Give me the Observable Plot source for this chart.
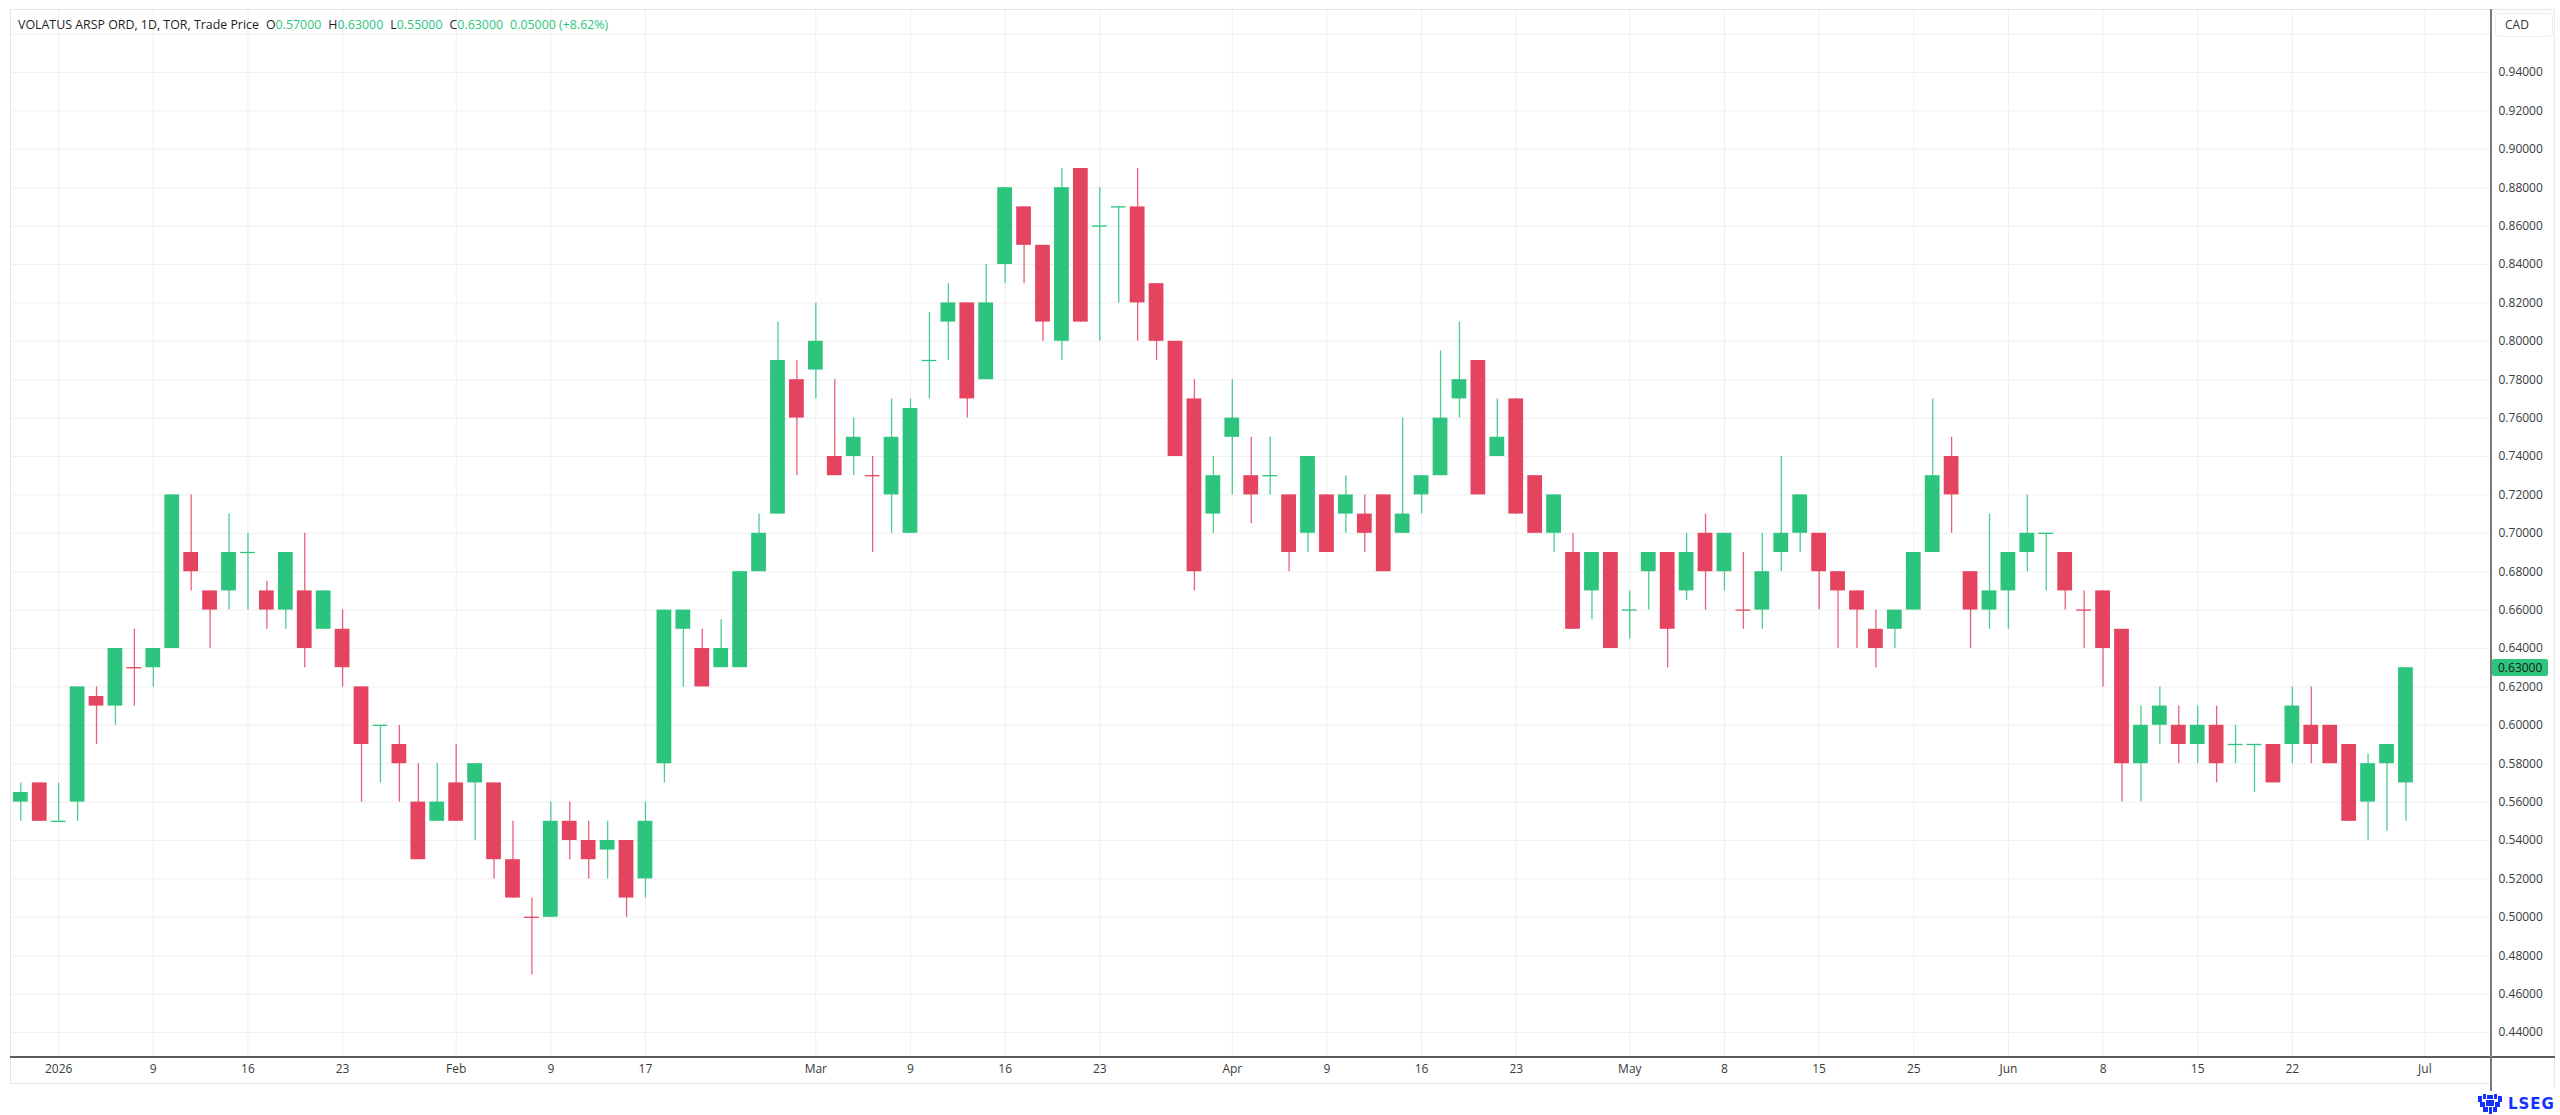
<!DOCTYPE html>
<html>
<head>
<meta charset="utf-8">
<script src="https://cdn.jsdelivr.net/npm/d3@7"></script>
<script src="https://cdn.jsdelivr.net/npm/@observablehq/plot@0.6"></script>
<style>
  html, body { margin: 0; padding: 0; background: #fff; }
  #wrap { position: relative; width: 2560px; height: 1115px; overflow: hidden; font-family: "Open Sans", "Noto Sans", sans-serif; }
  #wrap > svg { position: absolute; left: 0; top: 0; }
  .ov { position: absolute; }
  #hdr { left: 18px; top: 17px; font-size: 12.4px; line-height: 16px; color: #1e1e1e; white-space: nowrap; }
  #hdr .v { color: #2dc47e; }
  #hdr .k { margin-left: 7px; }
  #cad { left: 2495px; top: 13px; width: 58px; height: 24px; box-sizing: border-box; border: 1px solid #ececec; border-radius: 4px; font-size: 12px; line-height: 22px; color: #333; padding-left: 9px; background: #fff; }
  #px { left: 2492px; width: 56px; height: 17px; background: #2dc47e; color: #1a1a1a; font-size: 12px; line-height: 17px; padding-left: 6px; box-sizing: border-box; border-radius: 2px; }
  #logo { left: 2478px; top: 1093px; height: 22px; display: flex; align-items: center; gap: 6px; }
  #logo svg { display: block; }
  #logo span { font-family: "DejaVu Sans", sans-serif; font-weight: bold; font-size: 15px; color: #1432ff; letter-spacing: 1px; }
</style>
</head>
<body>
<div id="wrap"></div>
<script>
// ---------- data ----------
const holidays = ["2026-01-01", "2026-02-16", "2026-04-03", "2026-05-18", "2026-07-01"];
function tradingDays(from, to) {
  const out = [];
  for (let t = new Date(from + "T00:00:00Z"); t <= new Date(to + "T00:00:00Z"); t = new Date(t.getTime() + 86400000)) {
    const wd = t.getUTCDay();
    const s = t.toISOString().slice(0, 10);
    if (wd !== 0 && wd !== 6 && !holidays.includes(s)) out.push(s);
  }
  return out;
}
const dates = tradingDays("2025-12-30", "2026-06-30");

const open = [
  0.56, 0.57, 0.55, 0.56, 0.615, 0.61, 0.63, 0.63, 0.64, 0.69, 0.67, 0.67, 0.69, 0.67, 0.66, 0.67, 0.65, 0.65, 0.62, 0.60, 0.59, 0.56, 0.55,
  0.57, 0.57, 0.57, 0.53, 0.50, 0.50, 0.55, 0.54, 0.535, 0.54, 0.52, 0.58, 0.65, 0.64, 0.63, 0.63, 0.68, 0.71, 0.78,
  0.785, 0.74, 0.74, 0.73, 0.72, 0.70, 0.79, 0.81, 0.82, 0.78, 0.84, 0.87, 0.85, 0.80, 0.89, 0.86, 0.87, 0.87, 0.83, 0.80, 0.77, 0.71,
  0.75, 0.73, 0.73, 0.72, 0.70, 0.72, 0.71, 0.71, 0.72, 0.70, 0.72, 0.73, 0.77, 0.79, 0.74, 0.77, 0.73, 0.70, 0.69, 0.67, 0.69,
  0.66, 0.68, 0.69, 0.67, 0.70, 0.68, 0.66, 0.66, 0.69, 0.70, 0.70, 0.68, 0.67, 0.65, 0.65, 0.66, 0.69, 0.74, 0.68, 0.66,
  0.67, 0.69, 0.70, 0.69, 0.66, 0.67, 0.65, 0.58, 0.60, 0.60, 0.59, 0.60, 0.59, 0.59, 0.59, 0.59, 0.60, 0.60, 0.59, 0.56, 0.58, 0.57
];
const high = [
  0.57, 0.57, 0.57, 0.62, 0.62, 0.64, 0.65, 0.64, 0.72, 0.72, 0.67, 0.71, 0.70, 0.675, 0.69, 0.70, 0.67, 0.66, 0.62, 0.60, 0.60, 0.58, 0.58,
  0.59, 0.58, 0.57, 0.55, 0.51, 0.56, 0.56, 0.55, 0.55, 0.54, 0.56, 0.66, 0.66, 0.65, 0.655, 0.68, 0.71, 0.81, 0.79,
  0.82, 0.78, 0.76, 0.74, 0.77, 0.77, 0.815, 0.83, 0.82, 0.84, 0.88, 0.87, 0.85, 0.89, 0.89, 0.88, 0.87, 0.89, 0.83, 0.80, 0.78, 0.74,
  0.78, 0.75, 0.75, 0.72, 0.74, 0.72, 0.73, 0.72, 0.72, 0.76, 0.73, 0.795, 0.81, 0.79, 0.77, 0.77, 0.73, 0.72, 0.70, 0.69, 0.69,
  0.67, 0.69, 0.69, 0.70, 0.71, 0.70, 0.69, 0.70, 0.74, 0.72, 0.70, 0.68, 0.67, 0.66, 0.66, 0.69, 0.77, 0.75, 0.68, 0.71,
  0.69, 0.72, 0.70, 0.69, 0.67, 0.67, 0.65, 0.61, 0.62, 0.61, 0.61, 0.61, 0.60, 0.59, 0.59, 0.62, 0.62, 0.60, 0.59, 0.585, 0.59, 0.63
];
const low = [
  0.55, 0.55, 0.55, 0.55, 0.59, 0.60, 0.61, 0.62, 0.64, 0.67, 0.64, 0.66, 0.66, 0.65, 0.65, 0.63, 0.65, 0.62, 0.56, 0.57, 0.56, 0.53, 0.55,
  0.55, 0.54, 0.52, 0.51, 0.47, 0.50, 0.53, 0.52, 0.52, 0.50, 0.51, 0.57, 0.62, 0.62, 0.63, 0.63, 0.68, 0.71, 0.73,
  0.77, 0.73, 0.73, 0.69, 0.70, 0.70, 0.77, 0.79, 0.76, 0.78, 0.83, 0.83, 0.80, 0.79, 0.81, 0.80, 0.82, 0.80, 0.79, 0.74, 0.67, 0.70,
  0.72, 0.705, 0.72, 0.68, 0.69, 0.69, 0.70, 0.69, 0.68, 0.70, 0.71, 0.73, 0.76, 0.72, 0.74, 0.71, 0.70, 0.69, 0.65, 0.655, 0.64,
  0.645, 0.66, 0.63, 0.665, 0.66, 0.67, 0.65, 0.65, 0.68, 0.69, 0.66, 0.64, 0.64, 0.63, 0.64, 0.66, 0.69, 0.70, 0.64, 0.65,
  0.65, 0.68, 0.67, 0.66, 0.64, 0.62, 0.56, 0.56, 0.59, 0.58, 0.58, 0.57, 0.58, 0.565, 0.57, 0.58, 0.58, 0.58, 0.55, 0.54, 0.545, 0.55
];
const close = [
  0.565, 0.55, 0.55, 0.62, 0.61, 0.64, 0.63, 0.64, 0.72, 0.68, 0.66, 0.69, 0.69, 0.66, 0.69, 0.64, 0.67, 0.63, 0.59, 0.60, 0.58, 0.53, 0.56,
  0.55, 0.58, 0.53, 0.51, 0.50, 0.55, 0.54, 0.53, 0.54, 0.51, 0.55, 0.66, 0.66, 0.62, 0.64, 0.68, 0.70, 0.79, 0.76,
  0.80, 0.73, 0.75, 0.73, 0.75, 0.765, 0.79, 0.82, 0.77, 0.82, 0.88, 0.85, 0.81, 0.88, 0.81, 0.86, 0.87, 0.82, 0.80, 0.74, 0.68, 0.73,
  0.76, 0.72, 0.73, 0.69, 0.74, 0.69, 0.72, 0.70, 0.68, 0.71, 0.73, 0.76, 0.78, 0.72, 0.75, 0.71, 0.70, 0.72, 0.65, 0.69, 0.64,
  0.66, 0.69, 0.65, 0.69, 0.68, 0.70, 0.66, 0.68, 0.70, 0.72, 0.68, 0.67, 0.66, 0.64, 0.66, 0.69, 0.73, 0.72, 0.66, 0.67,
  0.69, 0.70, 0.70, 0.67, 0.66, 0.64, 0.58, 0.60, 0.61, 0.59, 0.60, 0.58, 0.59, 0.59, 0.57, 0.61, 0.59, 0.58, 0.55, 0.58, 0.59, 0.63
];

const tickDates = ["2026-01-02", "2026-01-09", "2026-01-16", "2026-01-23", "2026-02-02", "2026-02-09", "2026-02-17",
  "2026-03-02", "2026-03-09", "2026-03-16", "2026-03-23", "2026-04-01", "2026-04-09", "2026-04-16", "2026-04-23",
  "2026-05-01", "2026-05-08", "2026-05-15", "2026-05-25", "2026-06-01", "2026-06-08", "2026-06-15", "2026-06-22", "2026-07-02"];
const tickLabels = ["2026", "9", "16", "23", "Feb", "9", "17", "Mar", "9", "16", "23", "Apr", "9", "16", "23",
  "May", "8", "15", "25", "Jun", "8", "15", "22", "Jul"];
const priceTicks = d3.range(0, 26).map(k => +(0.44 + 0.02 * k).toFixed(2));      // 0.44 … 0.94
const priceGrid = d3.range(0, 27).map(k => +(0.44 + 0.02 * k).toFixed(2));       // 0.44 … 0.96

// ---------- build ----------
const sessions = tradingDays("2025-12-30", "2026-07-02");
const candles = dates.map((d, i) => ({ i, date: d, open: open[i], high: high[i], low: low[i], close: close[i] }));
const GREEN = "#2dc47e", RED = "#e54460";
function col(d) {
  if (d.close > d.open) return GREEN;
  if (d.close < d.open) return RED;
  const prev = d.i > 0 ? close[d.i - 1] : d.close;
  return d.close >= prev ? GREEN : RED;
}
candles.forEach(d => d.color = col(d));
const ticks = tickDates.map((d, k) => ({ idx: sessions.indexOf(d), label: tickLabels[k] }));
const HALF = 0.39;
const bodies = candles.filter(d => d.open !== d.close);
const dojis = candles.filter(d => d.open === d.close);

const chart = Plot.plot({
  width: 2560,
  height: 1115,
  marginLeft: 10,
  marginRight: 69,
  marginTop: 9,
  marginBottom: 58,
  style: { background: "transparent", fontFamily: "Open Sans, Noto Sans, sans-serif", overflow: "visible" },
  x: { type: "linear", domain: [-0.544, 130.52], axis: null },
  y: { domain: [0.44 - 25 / 1920, 0.94 + 63 / 1920], axis: null },
  color: { type: "identity" },
  marks: [
    Plot.gridY(priceGrid, { stroke: "#efefef", strokeOpacity: 1, strokeWidth: 1 }),
    Plot.gridX(ticks.map(t => t.idx), { stroke: "#efefef", strokeOpacity: 1, strokeWidth: 1 }),
    Plot.ruleX(candles, { x: "i", y1: "low", y2: "high", stroke: "color", strokeWidth: 1.3, strokeOpacity: 0.85 }),
    Plot.rect(bodies, { x1: d => d.i - HALF, x2: d => d.i + HALF, y1: "open", y2: "close", fill: "color" }),
    Plot.ruleY(dojis, { y: "close", x1: d => d.i - HALF, x2: d => d.i + HALF, stroke: "color", strokeWidth: 1.3 }),
    Plot.axisY(priceTicks, { anchor: "right", tickSize: 0, tickPadding: 7, tickFormat: d => d.toFixed(5), fontSize: 12, fill: "#3a3a3a", label: null }),
    Plot.text(ticks, { x: "idx", text: "label", frameAnchor: "bottom", lineAnchor: "top", dy: 7, fontSize: 12, fill: "#3a3a3a" })
  ]
});

const wrap = document.getElementById("wrap");
wrap.appendChild(chart);

// frame lines
function line(l, t, w, h, c) {
  const e = document.createElement("div");
  e.className = "ov";
  Object.assign(e.style, { left: l + "px", top: t + "px", width: w + "px", height: h + "px", background: c });
  wrap.appendChild(e);
}
line(10, 9, 2545, 1, "#e6e6e6");     // top border
line(10, 9, 1, 1075, "#e6e6e6");     // left border
line(10, 1083, 2481, 1, "#e6e6e6");  // time-axis strip bottom
line(2554, 9, 1, 1081, "#eaeaea");   // price-axis strip right
line(10, 1056, 2545, 2, "#5c5c5c");  // time axis line
line(2490, 9, 2, 1082, "#7a7a7a");   // price axis line

// header legend
const last = candles[candles.length - 1];
const prevClose = 0.58;
const chg = last.close - prevClose;
const hdr = document.createElement("div");
hdr.id = "hdr"; hdr.className = "ov";
hdr.innerHTML = `VOLATUS ARSP ORD, 1D, TOR, Trade Price` +
  `<span class="k">O</span><span class="v">${last.open.toFixed(5)}</span>` +
  `<span class="k">H</span><span class="v">${last.high.toFixed(5)}</span>` +
  `<span class="k">L</span><span class="v">${last.low.toFixed(5)}</span>` +
  `<span class="k">C</span><span class="v">${last.close.toFixed(5)}</span>` +
  `<span class="v k">${chg.toFixed(5)} (+${(chg / prevClose * 100).toFixed(2)}%)</span>`;
wrap.appendChild(hdr);

// currency box
const cad = document.createElement("div");
cad.id = "cad"; cad.className = "ov"; cad.textContent = "CAD";
wrap.appendChild(cad);

// last price label
const px = document.createElement("div");
px.id = "px"; px.className = "ov"; px.textContent = last.close.toFixed(5);
px.style.top = (chart.scale("y").apply(last.close) - 8.5) + "px";
wrap.appendChild(px);

// LSEG logo
const logo = document.createElement("div");
logo.id = "logo"; logo.className = "ov";
logo.innerHTML = `<svg width="24" height="20" viewBox="0 0 24 20">
  <g fill="#1432ff">
    <rect x="0" y="2" width="4" height="6"/><rect x="5" y="0" width="3" height="5"/><rect x="9" y="1" width="6" height="4"/>
    <rect x="16" y="0" width="3" height="5"/><rect x="20" y="2" width="4" height="6"/><rect x="2" y="8" width="5" height="5"/>
    <rect x="8" y="6" width="8" height="6"/><rect x="17" y="8" width="5" height="5"/><rect x="5" y="13" width="5" height="5"/>
    <rect x="11" y="13" width="3" height="7"/><rect x="15" y="13" width="4" height="5"/>
  </g></svg><span>LSEG</span>`;
wrap.appendChild(logo);
</script>
</body>
</html>
